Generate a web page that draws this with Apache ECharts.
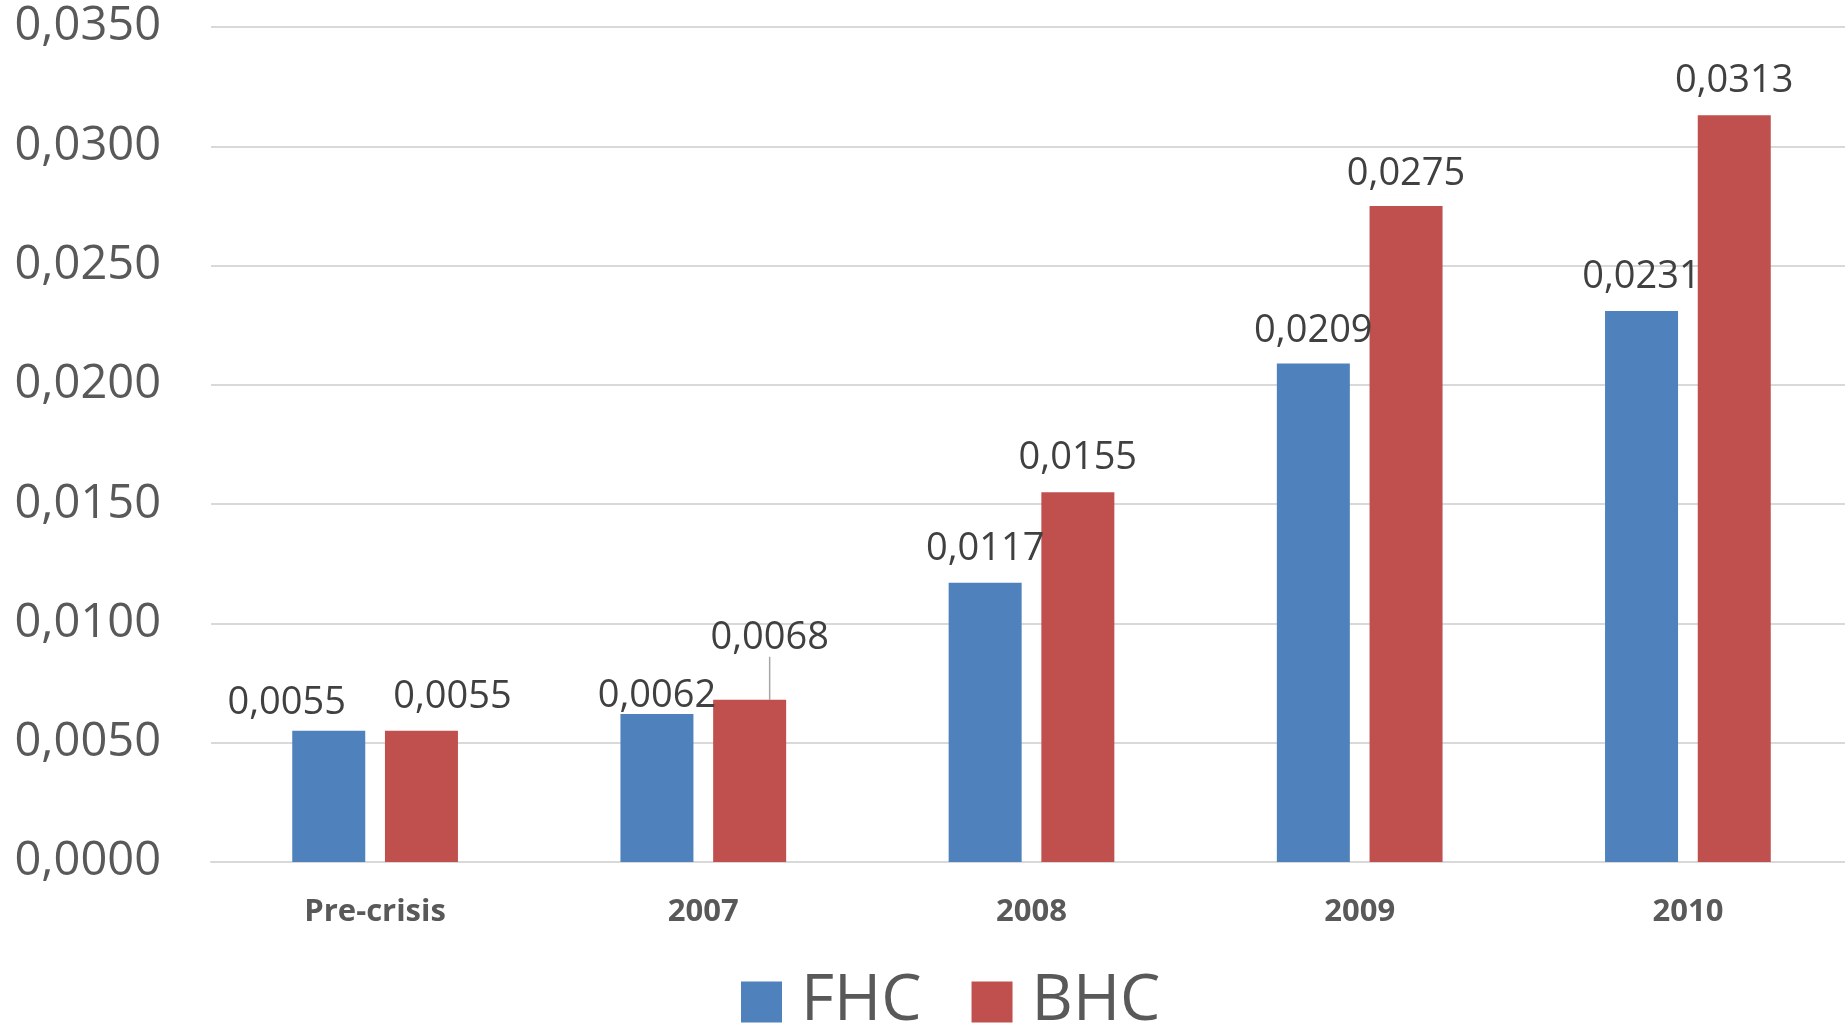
<!DOCTYPE html>
<html>
<head>
<meta charset="utf-8">
<script src="https://cdn.jsdelivr.net/npm/echarts@6/dist/echarts.min.js"></script>
<style>
html,body{margin:0;padding:0;background:#fff;}
#chart{width:1845px;height:1030px;}
</style>
</head>
<body>
<div id="chart"></div>
<script>
const categories = ['Pre-crisis', '2007', '2008', '2009', '2010'];
const fhcValues = [0.0055, 0.0062, 0.0117, 0.0209, 0.0231];
const bhcValues = [0.0055, 0.0068, 0.0155, 0.0275, 0.0313];
const seriesNames = ['FHC', 'BHC'];

// label nudges (series index -> data index -> [dx, dy])
const labelNudges = {
  0: {0: [-42, 6], 1: [0, 16], 3: [0, 2]},
  1: {0: [31, 0], 1: [20, -28], 3: [0, 2]}
};
// labels that get a leader line (series index -> data index)
const leaderLines = {1: [1]};

function fmt(v) { return v.toFixed(4).replace('.', ','); }

function buildData(values, si) {
  return values.map((v, i) => {
    const withLine = leaderLines[si] && leaderLines[si].indexOf(i) >= 0;
    return {value: v, labelLine: {show: withLine}};
  });
}

const chart = echarts.init(document.getElementById('chart'));
const labelStyle = {
  show: true,
  position: 'top',
  distance: 15,
  fontFamily: 'Open Sans',
  fontSize: 38,
  lineHeight: 38,
  color: '#404040',
  formatter: p => fmt(p.value)
};
const lineStyle = {show: false, lineStyle: {color: '#a6a6a6', width: 1.5}};
chart.setOption({
  animation: false,
  grid: {left: 211, top: 27, width: 1641, height: 835, outerBoundsMode: 'none', containLabel: false},
  legend: {
    data: seriesNames,
    left: 741,
    top: 970,
    padding: 0,
    itemWidth: 41,
    itemHeight: 41,
    itemGap: 50,
    icon: 'rect',
    textStyle: {fontFamily: 'Open Sans', fontSize: 64, color: '#595959', padding: [0, 0, 0, 14]}
  },
  xAxis: {
    type: 'category',
    data: categories,
    axisLine: {show: true, lineStyle: {color: '#d9d9d9', width: 2}},
    axisTick: {show: false},
    axisLabel: {fontFamily: 'Open Sans', fontWeight: 'bold', fontSize: 31, color: '#595959', margin: 35}
  },
  yAxis: {
    type: 'value',
    min: 0,
    max: 0.035,
    interval: 0.005,
    axisLine: {show: false},
    axisTick: {show: false},
    splitLine: {lineStyle: {color: '#d9d9d9', width: 2}},
    axisLabel: {fontFamily: 'Open Sans', fontSize: 47, color: '#595959', margin: 50, formatter: v => fmt(v)}
  },
  labelLayout: function (params) {
    const n = labelNudges[params.seriesIndex] && labelNudges[params.seriesIndex][params.dataIndex];
    if (n) return {dx: n[0], dy: n[1]};
    return {};
  },
  series: [
    {
      name: seriesNames[0],
      type: 'bar',
      data: buildData(fhcValues, 0),
      barWidth: 73,
      barGap: '27%',
      itemStyle: {color: '#4f81bd'},
      label: labelStyle,
      labelLine: lineStyle
    },
    {
      name: seriesNames[1],
      type: 'bar',
      data: buildData(bhcValues, 1),
      barWidth: 73,
      barGap: '27%',
      itemStyle: {color: '#c0504d'},
      label: labelStyle,
      labelLine: lineStyle
    }
  ]
});
</script>
</body>
</html>
